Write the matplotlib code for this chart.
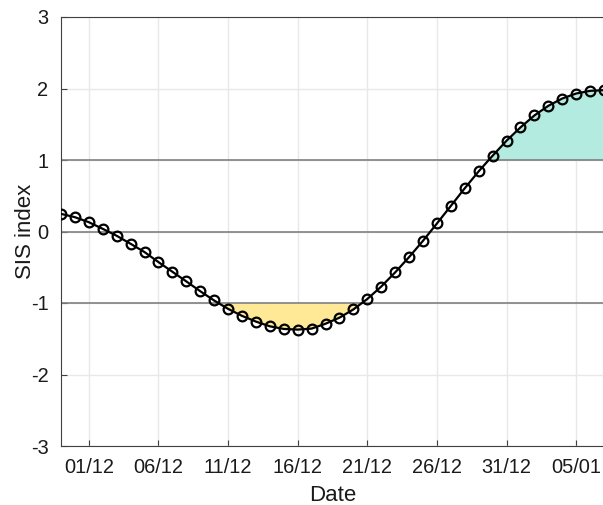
import datetime as dt

import numpy as np
import matplotlib
matplotlib.use("Agg")
import matplotlib.pyplot as plt
import matplotlib.dates as mdates

plt.rcParams["font.family"] = ["Liberation Sans", "DejaVu Sans"]
plt.rcParams["axes.unicode_minus"] = False

# daily SIS index, 29/11 .. 07/01
start = dt.date(2020, 11, 29)
dates = [start + dt.timedelta(days=i) for i in range(40)]
sis = [
    0.247, 0.200, 0.130, 0.037, -0.060, -0.172, -0.288, -0.428, -0.563, -0.698,
    -0.835, -0.965, -1.082, -1.180, -1.260, -1.326, -1.363, -1.372, -1.358, -1.290,
    -1.205, -1.090, -0.944, -0.770, -0.572, -0.358, -0.130, 0.112, 0.358, 0.605,
    0.842, 1.060, 1.270, 1.456, 1.623, 1.758, 1.860, 1.930, 1.967, 1.977,
]
thresholds = [-1, 0, 1]

x = mdates.date2num(dates)
y = np.array(sis)

fig = plt.figure(figsize=(6.03, 5.05), dpi=100)
ax = fig.add_axes([61 / 603, 59 / 505, 543 / 603, 429 / 505])

# shaded excursions beyond +/-1
ax.fill_between(x, 1, y, where=y >= 1, interpolate=True, color="#b3ebe0", lw=0, zorder=1)
ax.fill_between(x, -1, y, where=y <= -1, interpolate=True, color="#ffe896", lw=0, zorder=1)

for t in thresholds:
    ax.axhline(t, color="#808080", lw=1.2, zorder=2)

ax.plot(x, y, color="black", lw=1.6, marker="o", ms=7, mfc="none", mew=1.6,
        zorder=3)

ax.set_xlim(x[0], x[-1])
ax.set_ylim(-3, 3)
ax.set_yticks(range(-3, 4))
ticks = [mdates.date2num(dt.date(2020, 12, 1) + dt.timedelta(days=5 * k)) for k in range(8)]
ax.set_xticks(ticks)
ax.xaxis.set_major_formatter(mdates.DateFormatter("%d/%m"))

ax.grid(True, color="#e8e8e8", lw=1, zorder=0)
ax.set_axisbelow(True)
ax.tick_params(direction="in", length=4, width=0.8, colors="#404040",
               labelcolor="#1a1a1a", labelsize=14.4)
ax.tick_params(axis="x", pad=8.5)
ax.tick_params(axis="y", pad=9)
for s in ax.spines.values():
    s.set_color("#404040")
    s.set_linewidth(0.8)

ax.set_xlabel("Date", fontsize=16, color="#1a1a1a", labelpad=6)
ax.set_ylabel("SIS index", fontsize=16, color="#1a1a1a", labelpad=-4)

fig.savefig("out.png", dpi=100)
